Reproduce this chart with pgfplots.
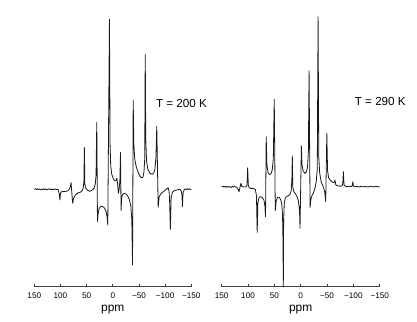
\documentclass[border=0pt]{standalone}
\usepackage{fontspec}
\setmainfont{Liberation Sans}
\usepackage{pgfplots}
\pgfplotsset{compat=1.18}
\usepackage{pgfplotstable}

\pgfplotstableread{
ppm val
150 0
148 0.6
146 -0.3
144 0.5
142 -0.2
140 0.4
138 -0.6
136 0.2
134 -0.4
132 0.5
130 -0.2
128 0.3
126 -0.5
124 0.2
122 0.6
120 -0.3
118 0.2
116 -0.6
114 0.3
112 -0.2
110 0.4
108 -0.5
106 0.1
104 -0.8
102.5 -4
101 -10.7
100 -4
98 -2.5
95 -2
92 -2.3
89 -2
86 -1.5
83 0
81 3
79.8 6.7
78.5 -2
76.6 -14
75 -9
72 -6
69 -4.5
66 -3.5
62 -3
59 -1.5
56.5 1
55.2 8
54.3 41.7
53.4 5
51.5 1
48 -1
44 -2
40 -1
36 1
33.5 5
32 14
30.6 66.7
29.3 -32.3
28 -24
26 -19
23 -17
20 -17.3
17 -18
14 -20.5
12 -24
10.5 -29
9.6 -35.7
6.4 170
5.2 45
4 24
2 15
-1 10.5
-4 8.5
-6 8.5
-7.7 11
-9 6
-10.8 -4
-12 0
-13.5 8
-14.7 36.7
-15.8 -21.3
-17 -8
-19 -5
-22 -4
-26 -5
-29 -7
-32 -11
-34.5 -17
-36.3 -30
-37.7 -75.7
-39 89.3
-40.2 45
-42 30
-45 22
-48 17.7
-52 13
-55 11.5
-57.5 12
-59.5 17
-61 30
-62 135
-63 50
-64.5 28
-67 20
-71 16
-75 15
-78 16
-80.5 20
-82.5 32
-84 63.3
-86.7 -18
-88.5 -8
-91 -5
-95 -3
-99 -1.5
-103 0.5
-106 1.5
-107.5 -2
-108.5 -10
-110 -40
-111.5 -8
-114 -3
-117 -1.5
-120 -1
-124 -0.5
-128 0
-131 -2
-132.2 -6
-133 -17.3
-134.2 -4
-136 -1
-138 0.4
-140 -0.3
-142 0.5
-144 -0.2
-146 0.6
-148 -0.3
-150 0
}\specA

\pgfplotstableread{
ppm val
150 0
148 0.5
146 -0.4
144 0.3
142 -0.5
140 0.2
138 -0.6
136 0.3
134 -0.2
132 -0.8
130 0.2
128 -0.4
126 0.5
124 -0.3
122 -0.5
120 -1.5
118 -3.5
117 -5
115.5 -1
113.5 3.3
112 0.5
110 0
107 -0.4
104 -0.2
102 1.5
100.7 19
99.5 2
98 -1
95 -1.7
91 -1.7
88 -2.2
86 -3
84 -9
82.6 -45.7
81.3 -16
79 -10.5
76 -10
73 -11
70 -13
68 -19
66.8 -30
65.5 50
64.2 22
62 14
59 12
56 13.3
54 17
52 28
50.2 87.3
48.3 -24
46.5 -14
44 -10.7
41 -10.5
38 -13
36 -17
34.5 -28
33.6 -55
33 -100
32.4 -35
31.2 -16
29 -11
26 -9.5
23 -9
20 -7.5
18 -4
16.8 6
15.9 30.7
15 0
13 -5
10 -7
7 -10
4.5 -14
3 -20
2 -28
1.3 -41.7
-1.3 40.7
-2.5 22
-4.5 16
-8 13.3
-11 15
-13 20
-14.6 35
-15.9 116
-17.8 -20.7
-19.5 -12
-22 -8
-24 -6.7
-27 -1.7
-29.5 5
-31.5 18
-33 170
-34.3 30
-36 14
-38.5 6
-41 2
-43.5 -1
-45.5 -5
-47.5 -15
-49.6 53.3
-51 16
-53 9
-56 6.5
-59 5
-62 4
-63.7 4.5
-65 6.7
-66.5 2
-69 1
-72 0.7
-76 0.5
-79 1
-80 4
-81 15
-82.2 2
-85 0.3
-89 0
-93 0.5
-96 0
-98 1
-99 5
-100.2 0.5
-103 -0.2
-107 0.4
-111 -0.3
-115 0.5
-119 -0.2
-123 0.3
-127 -0.4
-131 0.2
-135 0.5
-139 -0.3
-143 0.4
-147 -0.2
-150 0
}\specB

\pgfplotsset{
  spec/.style={
    scale only axis,
    x dir=reverse,
    xmin=-150, xmax=150,
    axis x line=bottom,
    axis y line=none,
    axis line style={-, black!75, line width=0.7bp},
    xtick={150,100,50,0,-50,-100,-150},
    xticklabels={150,100,50,0,−50,−100,−150},
    xtick align=inside,
    major tick length=2.5bp,
    xtick style={black!75, line width=0.7bp},
    xticklabel style={font=\fontsize{8.2}{8}\selectfont, yshift=-2.5bp},
    xlabel={ppm},
    xlabel style={font=\fontsize{12}{12}\selectfont, at={(axis description cs:0.5,0)}, anchor=base, yshift=-24.6bp},
    clip=false,
  },
}

\begin{document}
\begin{tikzpicture}[x=1bp,y=1bp]
\useasboundingbox (0,0) rectangle (417,322);
\begin{axis}[spec, at={(34.3bp,35.3bp)}, anchor=south west,
  width=157bp, height=286.7bp, ymin=-97.4, ymax=189.3]
  \addplot[black!90, line width=0.8bp, line join=round] table[x=ppm, y=val] {\specA};
\end{axis}
\begin{axis}[spec, at={(221.7bp,35.3bp)}, anchor=south west,
  width=158bp, height=286.7bp, ymin=-100, ymax=186.7]
  \addplot[black!90, line width=0.8bp, line join=round] table[x=ppm, y=val] {\specB};
\end{axis}
\node[font=\fontsize{11.7}{12}\selectfont] at (181.5,218.8) {T = 200 K};
\node[font=\fontsize{11.7}{12}\selectfont] at (380.3,220.7) {T = 290 K};
\end{tikzpicture}
\end{document}
